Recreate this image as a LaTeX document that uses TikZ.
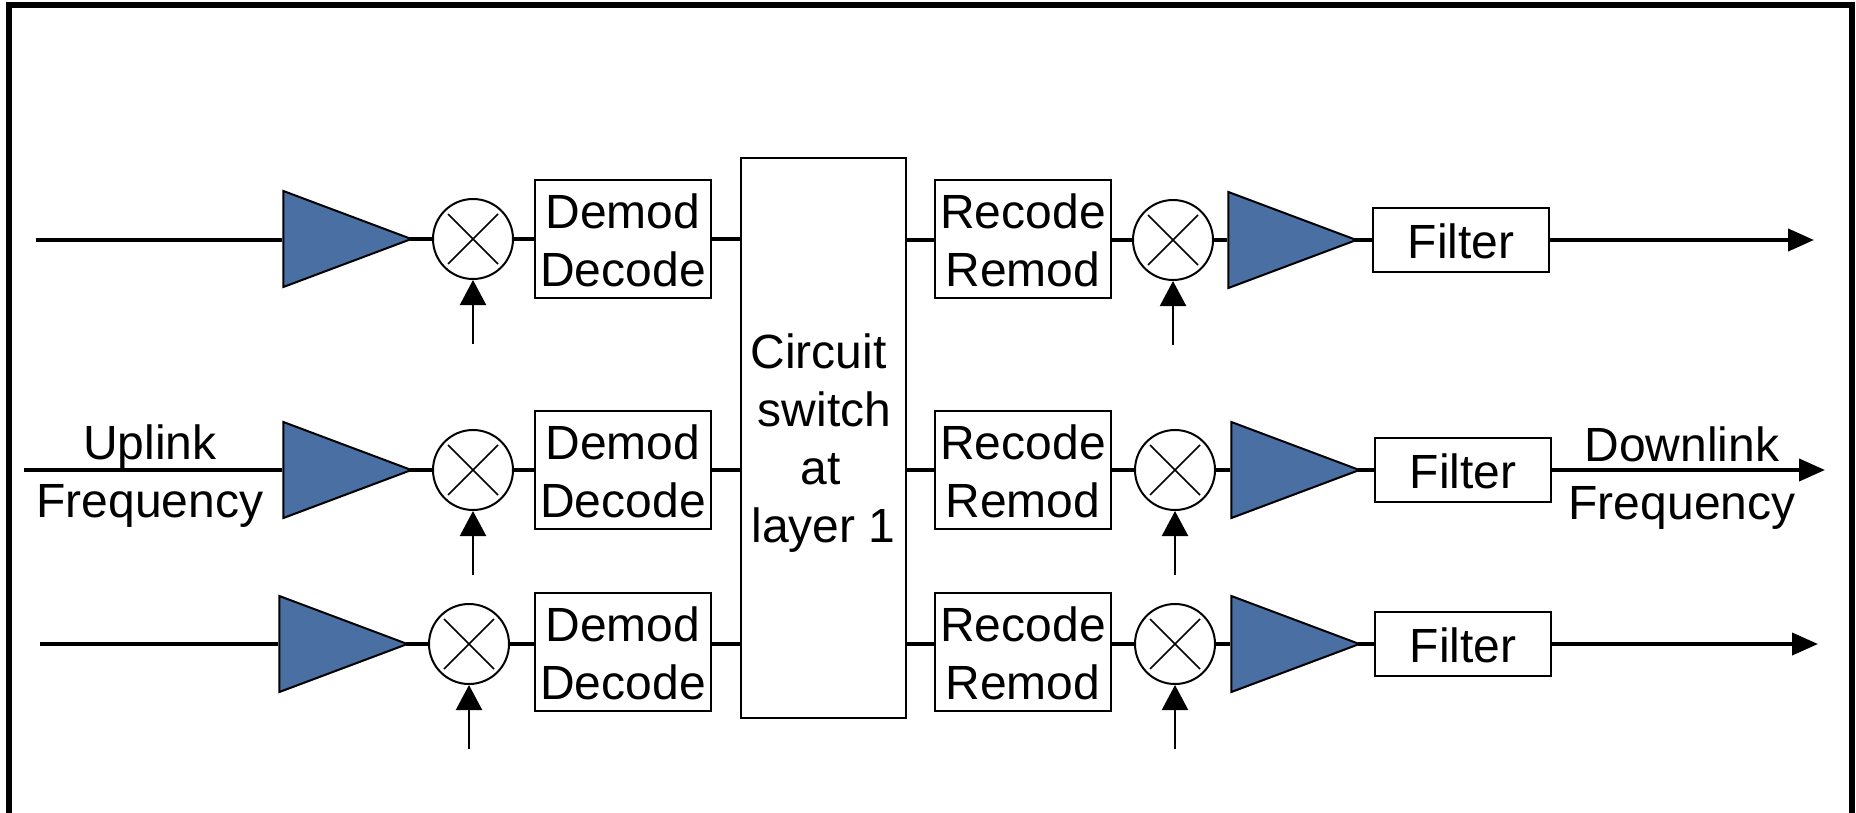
\documentclass[tikz,border=0pt]{standalone}
\usepackage{fontspec}
\setmainfont{Liberation Sans}
\usetikzlibrary{arrows.meta,shapes.geometric}
\definecolor{ampblue}{RGB}{74,112,163}
\newcommand\lowbox{\rule{0pt}{19.2pt}}
\newcommand\lowfil{\rule{0pt}{18.7pt}}
\tikzset{
  x=0.5pt,y=-0.5pt,
  every node/.style={font=\fontsize{24pt}{29pt}\selectfont,align=center,inner sep=0pt},
  boxnode/.style={draw=black,fill=white,line width=1pt,minimum width=88pt,minimum height=59pt},
  filternode/.style={draw=black,fill=white,line width=1pt,minimum width=88pt,minimum height=32pt},
  switchnode/.style={draw=black,fill=white,line width=1pt,minimum width=82.5pt,minimum height=280pt},
  ampnode/.style={draw=black,fill=ampblue,line width=1pt,isosceles triangle,isosceles triangle stretches,
    minimum width=48pt,minimum height=64pt,anchor=apex},
  mixnode/.style={circle,draw=black,fill=white,line width=1pt,minimum size=40pt,
    path picture={\draw[line width=0.8pt]
      ([shift={(-12.5pt,-12.5pt)}]path picture bounding box.center)--([shift={(12.5pt,12.5pt)}]path picture bounding box.center)
      ([shift={(-12.5pt,12.5pt)}]path picture bounding box.center)--([shift={(12.5pt,-12.5pt)}]path picture bounding box.center);}},
  sig/.style={line width=2pt},
  sigout/.style={line width=2pt,-{Triangle[length=13pt,width=11pt]}},
  lo/.style={line width=1.1pt,-{Triangle[length=12.5pt,width=13pt]}},
  frame/.style={line width=3pt}
}
\begin{document}
\begin{tikzpicture}
\useasboundingbox (0,0) rectangle (1856,813);
\coordinate (fa) at (9,813);
\coordinate (fb) at (9,5);
\coordinate (fc) at (1852,5);
\coordinate (fd) at (1852,813);
\draw[frame,line join=miter] (fa)--(fb)--(fc)--(fd);
% central switch
\node[switchnode] (sw) at (823.5,437.5) {};
\node (swt) at (821,443) {Circuit\hspace*{2.4pt}\\\hspace*{3.6pt}switch\\at\hspace*{3.6pt}\\\hspace*{2.4pt}layer 1};
% row 1
\coordinate (s1) at (35.5,239.5);
\node[ampnode] (a1) at (414,239) {};
\node[mixnode] (m1) at (473,239) {};
\node[boxnode] (d1) at (623,239) {\lowbox Demod\\Decode};
\node[boxnode] (r1) at (1023,239) {\lowbox Recode\\Remod};
\node[mixnode] (n1) at (1173,240) {};
\node[ampnode] (b1) at (1359,240) {};
\node[filternode] (f1) at (1461,240) {\lowfil Filter};
\coordinate (e1) at (1814,240);
\coordinate (l1) at (473,344);
\coordinate (k1) at (1173,345);
% row 2
\coordinate (s2) at (24,470);
\node[ampnode] (a2) at (414,470) {};
\node[mixnode] (m2) at (473,470) {};
\node[boxnode] (d2) at (623,470) {\lowbox Demod\\Decode};
\node[boxnode] (r2) at (1023,470) {\lowbox Recode\\Remod};
\node[mixnode] (n2) at (1175,470) {};
\node[ampnode] (b2) at (1362,470) {};
\node[filternode] (f2) at (1463,470) {\lowfil Filter};
\coordinate (e2) at (1825,470);
\coordinate (l2) at (473,575);
\coordinate (k2) at (1175,575);
% row 3
\coordinate (s3) at (40,644);
\node[ampnode] (a3) at (410,644) {};
\node[mixnode] (m3) at (469,644) {};
\node[boxnode] (d3) at (623,652) {\lowbox Demod\\Decode};
\node[boxnode] (r3) at (1023,652) {\lowbox Recode\\Remod};
\node[mixnode] (n3) at (1175,644) {};
\node[ampnode] (b3) at (1362,644) {};
\node[filternode] (f3) at (1463,644) {\lowfil Filter};
\coordinate (e3) at (1818,644);
\coordinate (l3) at (469,749);
\coordinate (k3) at (1175,749);
% connectors
\foreach \i in {1,2,3}{
  \draw[sig] ([xshift=-2pt]a\i.apex) -- (m\i.west);
  \draw[sig] ([xshift=-2pt]b\i.apex) -- (f\i.west |- b\i.apex);
  \draw[sig] (s\i) -- (a\i.west |- s\i);
  \draw[sig] (m\i.east) -- (d\i.west |- m\i.east);
  \draw[sig] (d\i.east |- m\i.east) -- (sw.west |- m\i.east);
  \draw[sig] (sw.east |- n\i.east) -- (r\i.west |- n\i.east);
  \draw[sig] (r\i.east |- n\i.east) -- (n\i.west);
  \draw[sig] (n\i.east) -- (b\i.west |- n\i.east);
  \draw[sigout] (f\i.east |- e\i) -- (e\i);
  \draw[lo] (l\i) -- (m\i.south);
  \draw[lo] (k\i) -- (n\i.south);
}
% labels
\node (up) at (150,476) {Uplink\\Frequency};
\node (dn) at (1682,478) {Downlink\\Frequency};
\end{tikzpicture}
\end{document}
